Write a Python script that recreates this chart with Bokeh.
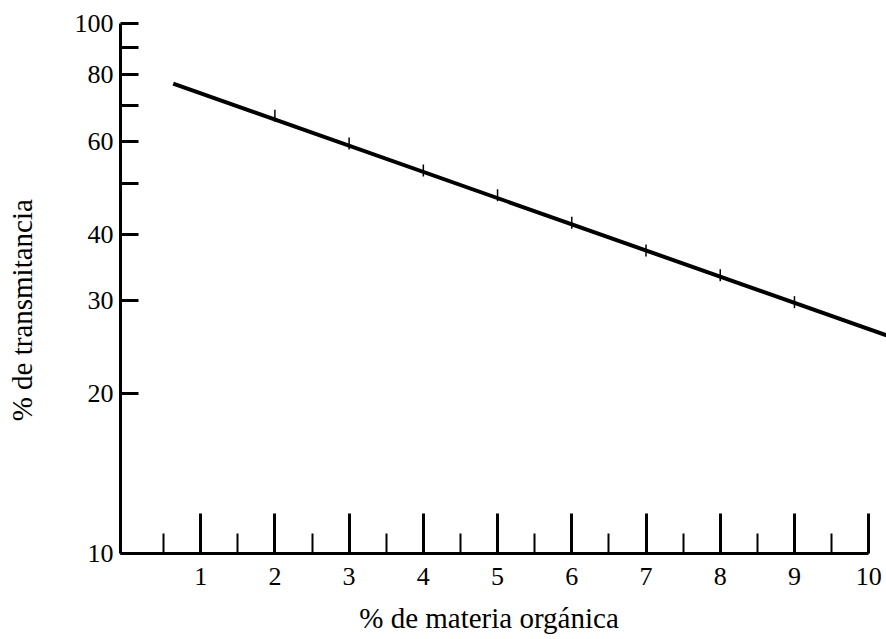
import math
from bokeh.plotting import figure
from bokeh.models import Range1d, FixedTicker, CustomJSTickFormatter
from bokeh.embed import file_html
from bokeh.resources import INLINE

# ---- data ----
fit_x = [0.63, 10.24]
fit_y = [77.0, 25.8]
point_x = [2, 3, 4, 5, 6, 7, 8, 9]
point_y = [67.0, 59.4, 52.8, 47.4, 42.1, 37.3, 33.5, 29.8]
x_ticks = [1, 2, 3, 4, 5, 6, 7, 8, 9, 10]
x_minor = [0.5, 1.5, 2.5, 3.5, 4.5, 5.5, 6.5, 7.5, 8.5, 9.5]
y_ticks = [10, 20, 30, 40, 50, 60, 70, 80, 90, 100]
y_labels = [10, 20, 30, 40, 60, 80, 100]
x_title = "% de materia orgánica"
y_title = "% de transmitancia"

FONT = "Liberation Serif"
NB = "\u00a0"

p = figure(width=886, height=639, output_backend="svg", toolbar_location=None,
           y_axis_type="log",
           x_range=Range1d(-0.08, 10.24), y_range=Range1d(10, 100),
           min_border_left=120, min_border_right=0, min_border_top=23,
           min_border_bottom=86)
p.background_fill_color = "white"
p.border_fill_color = "white"
p.outline_line_color = None
p.xgrid.visible = False
p.ygrid.visible = False

# x axis
xa = p.xaxis[0]
xa.ticker = FixedTicker(ticks=x_ticks, minor_ticks=x_minor)
xa.bounds = (-0.08, 10)
xa.axis_line_width = 3
xa.axis_line_color = "black"
xa.major_tick_in = 40
xa.major_tick_out = 0
xa.minor_tick_in = 20
xa.minor_tick_out = 0
xa.major_tick_line_width = 3
xa.minor_tick_line_width = 2
xa.major_tick_line_color = "black"
xa.minor_tick_line_color = "black"
xa.major_label_text_font = FONT
xa.major_label_text_font_size = "26px"
xa.major_label_text_color = "black"
xa.major_label_standoff = 14
xa.axis_label = x_title + NB * 4
xa.axis_label_text_font = FONT
xa.axis_label_text_font_size = "29px"
xa.axis_label_text_font_style = "normal"
xa.axis_label_text_color = "black"
xa.axis_label_standoff = 14

# y axis
ya = p.yaxis[0]
ya.ticker = FixedTicker(ticks=y_ticks, minor_ticks=[])
ya.formatter = CustomJSTickFormatter(args=dict(show=y_labels),
                                     code="return show.includes(tick) ? String(tick) : '';")
ya.axis_line_width = 3
ya.axis_line_color = "black"
ya.major_tick_in = 18
ya.major_tick_out = 0
ya.major_tick_line_width = 3
ya.major_tick_line_color = "black"
ya.minor_tick_line_color = None
ya.major_label_text_font = FONT
ya.major_label_text_font_size = "26px"
ya.major_label_text_color = "black"
ya.major_label_standoff = 7
ya.axis_label = y_title + NB * 6
ya.axis_label_text_font = FONT
ya.axis_label_text_font_size = "29px"
ya.axis_label_text_font_style = "normal"
ya.axis_label_text_color = "black"
ya.axis_label_standoff = 34

# fitted line and measured points
p.line(fit_x, fit_y, line_color="black", line_width=4)
p.scatter(point_x, point_y, marker="dash", angle=math.pi / 2, size=12,
          line_color="black", line_width=1.5)

open("out.html", "w").write(file_html(p, INLINE))
